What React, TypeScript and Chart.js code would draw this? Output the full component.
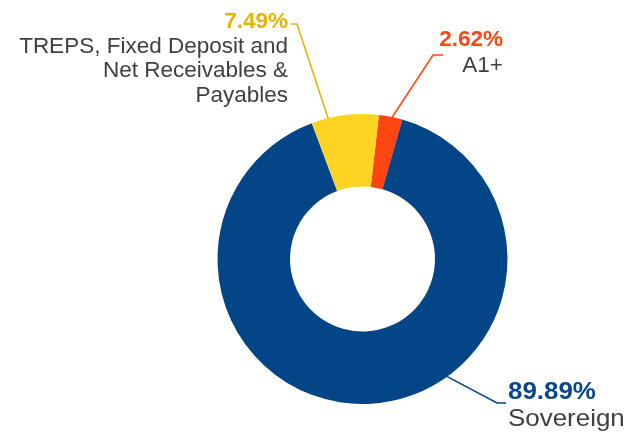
import React, { useEffect, useRef } from "react";
import { Chart, registerables } from "chart.js";

Chart.register(...registerables);

const categories = ["A1+", "Sovereign", "TREPS, Fixed Deposit and Net Receivables & Payables"];
const values = [2.62, 89.89, 7.49];
const pctLabels = ["2.62%", "89.89%", "7.49%"];
const nameLines = [["A1+"], ["Sovereign"], ["TREPS, Fixed Deposit and", "Net Receivables &", "Payables"]];
const sliceColors = ["#FF4511", "#034587", "#FED322"];
const textColors = ["#FF4511", "#0A4689", "#E4B500"];
const lineColors = ["#FF4511", "#0A4689", "#E4B500"];

// leader-line/label layout (annotation positions)
const labelLayout = [
  { frac: 0.55, elbow: [433, 55], end: [443, 55], align: "right", x: 503, pctY: 46, nameY: 72, size: 22.5, sx: 1 },
  { frac: 0.397, elbow: [497, 403], end: [506, 403], align: "left", x: 508, pctY: 399, nameY: 426, size: 24, sx: 1.08 },
  { frac: 0.25, elbow: [297, 24], end: [291, 24], align: "right", x: 288, pctY: 28, nameY: 53, size: 22.5, sx: 1 },
];

const FONT = "'Liberation Sans', Arial, Helvetica, sans-serif";

const labelPlugin = {
  id: "leaderLabels",
  afterDraw(chart: any) {
    const ctx = chart.ctx;
    const meta = chart.getDatasetMeta(0);
    meta.data.forEach((arc: any, i: number) => {
      const L = labelLayout[i];
      const { x, y, startAngle, endAngle, outerRadius } = arc.getProps(
        ["x", "y", "startAngle", "endAngle", "outerRadius"],
        true
      );
      const a = startAngle + L.frac * (endAngle - startAngle);
      const px = x + Math.cos(a) * (outerRadius - 1);
      const py = y + Math.sin(a) * (outerRadius - 1);
      ctx.save();
      ctx.strokeStyle = lineColors[i];
      ctx.lineWidth = 1.6;
      ctx.beginPath();
      ctx.moveTo(px, py);
      ctx.lineTo(L.elbow[0], L.elbow[1]);
      ctx.lineTo(L.end[0], L.end[1]);
      ctx.stroke();
      ctx.restore();

      ctx.save();
      ctx.translate(L.x, 0);
      ctx.scale(L.sx, 1);
      ctx.textAlign = L.align;
      ctx.textBaseline = "alphabetic";
      ctx.fillStyle = textColors[i];
      ctx.font = `bold ${L.size}px ${FONT}`;
      ctx.fillText(pctLabels[i], 0, L.pctY);
      ctx.fillStyle = "#404040";
      ctx.font = `${L.size}px ${FONT}`;
      nameLines[i].forEach((t: string, k: number) => {
        ctx.fillText(t, 0, L.nameY + k * 24.4);
      });
      ctx.restore();
    });
  },
};

export default function App() {
  const ref = useRef<HTMLCanvasElement>(null);
  useEffect(() => {
    const chart = new Chart(ref.current!, {
      type: "doughnut",
      data: {
        labels: categories,
        datasets: [
          {
            data: values,
            backgroundColor: sliceColors,
            borderWidth: 0,
            hoverOffset: 0,
          },
        ],
      },
      options: {
        animation: false,
        responsive: true,
        maintainAspectRatio: false,
        rotation: 6.5,
        cutout: "50%",
        layout: { padding: { left: 217, right: 133, top: 114, bottom: 28 } },
        plugins: { legend: { display: false }, tooltip: { enabled: false } },
      },
      plugins: [labelPlugin],
    });
    return () => chart.destroy();
  }, []);
  return (
    <div style={{ position: "fixed", left: 0, top: 0, width: 641, height: 432, background: "#fff" }}>
      <canvas ref={ref} />
    </div>
  );
}
